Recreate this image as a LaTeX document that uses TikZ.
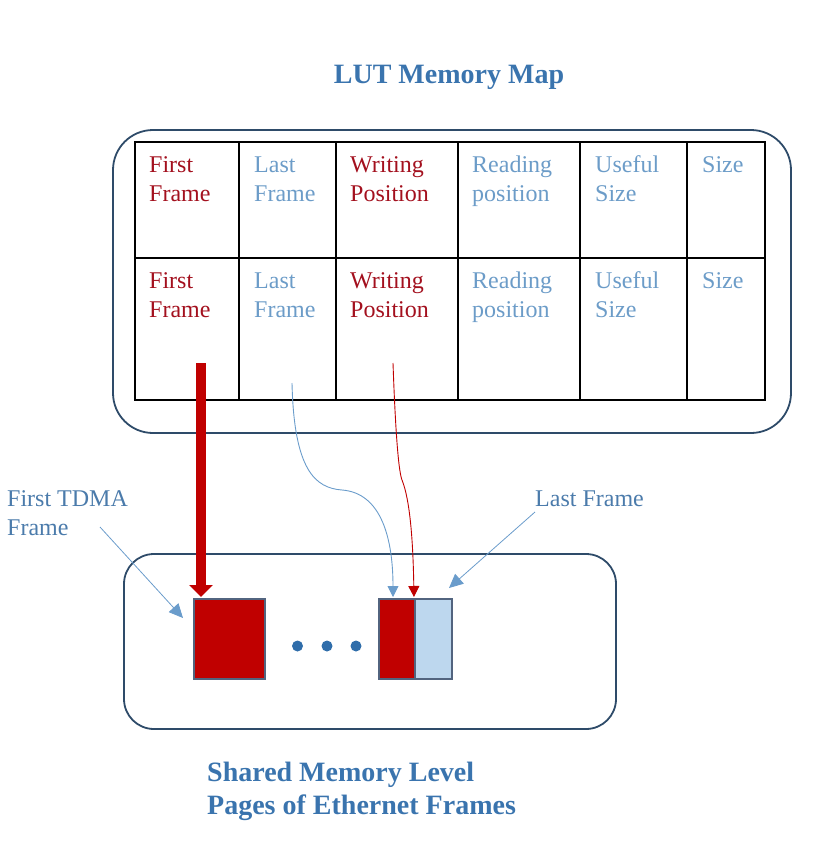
\documentclass[tikz,border=0pt]{standalone}
\usepackage{fontspec}
\setmainfont{Liberation Serif}
\usetikzlibrary{arrows.meta}
\definecolor{txtred}{HTML}{A3101E}
\definecolor{txtblue}{HTML}{6C9CC8}
\definecolor{lblblue}{HTML}{4B7BAB}
\definecolor{ttlblue}{HTML}{3A74AE}
\definecolor{frred}{HTML}{C00000}
\definecolor{frlight}{HTML}{BDD7EE}
\definecolor{frline}{HTML}{52647F}
\definecolor{boxline}{HTML}{2E4B69}
\definecolor{arrblue}{HTML}{6A9CCB}
\definecolor{dotblue}{HTML}{2F6DAA}
\tikzset{
  celltext/.style={anchor=base west, inner sep=0pt, font=\fontsize{24}{29}\selectfont},
  titletext/.style={inner sep=0pt, font=\fontsize{28}{33}\selectfont\bfseries, text=ttlblue},
  lbltext/.style={inner sep=0pt, font=\fontsize{24}{29}\selectfont, text=lblblue, align=left},
  cellbox/.style={draw=black, line width=1.8pt, inner sep=0pt},
  roundbox/.style={draw=boxline, line width=1.8pt},
  framebox/.style={draw=frline, line width=1.8pt, inner sep=0pt},
  thinarrow/.style={line width=0.9pt, -{Triangle[width=11pt,length=11pt]}},
  lblarrow/.style={draw=arrblue, line width=0.8pt, -{Triangle[width=13pt,length=14pt]}, color=arrblue},
}
\begin{document}
\begin{tikzpicture}[x=1pt,y=-1pt]
\useasboundingbox (0,0) rectangle (824,868);
% title
\node[titletext, anchor=base] (title) at (449,83) {LUT Memory Map};
% outer box of LUT
\draw[roundbox, rounded corners=40pt] (113,130) rectangle (791,433);
% table cells
\foreach \xa/\xb [count=\c] in {135/239,239/336,336/458,458/580,580/687,687/765}{
  \draw[cellbox] (\xa,142) rectangle (\xb,258);
  \draw[cellbox] (\xa,258) rectangle (\xb,400);
}
% cell texts
\foreach \x/\la/\lb/\col [count=\c] in {149/First/Frame/txtred,254/Last/Frame/txtblue,350/Writing/Position/txtred,472/Reading/position/txtblue,595/Useful/Size/txtblue,702/Size//txtblue}{
  \node[celltext, text=\col] (t1a\c) at (\x,172) {\la};
  \node[celltext, text=\col] (t1b\c) at (\x,201) {\lb};
  \node[celltext, text=\col] (t2a\c) at (\x,288) {\la};
  \node[celltext, text=\col] (t2b\c) at (\x,317) {\lb};
}
% shared memory box
\draw[roundbox, rounded corners=30pt] (124,554) rectangle (616,729);
\node[framebox, fill=frred, minimum width=71pt, minimum height=80pt, anchor=north west] (f1) at (193,598) {};
\node[framebox, fill=frlight, minimum width=37pt, minimum height=80pt, anchor=north west] (f3) at (414,598) {};
\node[framebox, fill=frred, minimum width=36pt, minimum height=80pt, anchor=north west] (f2) at (378,598) {};
% dots
\foreach \x [count=\i] in {297.5,327,356}{
  \fill[dotblue] (\x,646) circle (5.5pt) coordinate (dot\i);
}
% arrows from LUT
\coordinate (s1) at (201,363);
\coordinate (s2) at (292,383);
\coordinate (s3) at (393,363);
\coordinate (e1) at (201,597);
\coordinate (e2) at (393,597);
\coordinate (e3) at (414,597);
\draw[frred, line width=10pt, -{Triangle[width=23pt,length=12pt]}] (s1) -- (e1);
\draw[arrblue, thinarrow] (s2) .. controls (294,470) and (315,488) .. (342,490) .. controls (382,493) and (393,540) .. (e2);
\draw[frred, thinarrow] (s3) .. controls (395,420) and (398,470) .. (402,480) .. controls (410,500) and (413,540) .. (e3);
% labels
\node[lbltext, anchor=base west] (lfirst) at (7,506) {First TDMA};
\node[lbltext, anchor=base west] (lfirst2) at (7,535) {Frame};
\node[lbltext, anchor=base west] (llast) at (535,506) {Last Frame};
\coordinate (lfirstend) at (100,527);
\coordinate (llastend) at (535,512);
\draw[lblarrow] (lfirstend) -- (183,618);
\draw[lblarrow] (llastend) -- (449,588);
% bottom title
\node[titletext, anchor=base west] (btitle1) at (207,781) {Shared Memory Level};
\node[titletext, anchor=base west] (btitle2) at (207,814) {Pages of Ethernet Frames};
\end{tikzpicture}
\end{document}
